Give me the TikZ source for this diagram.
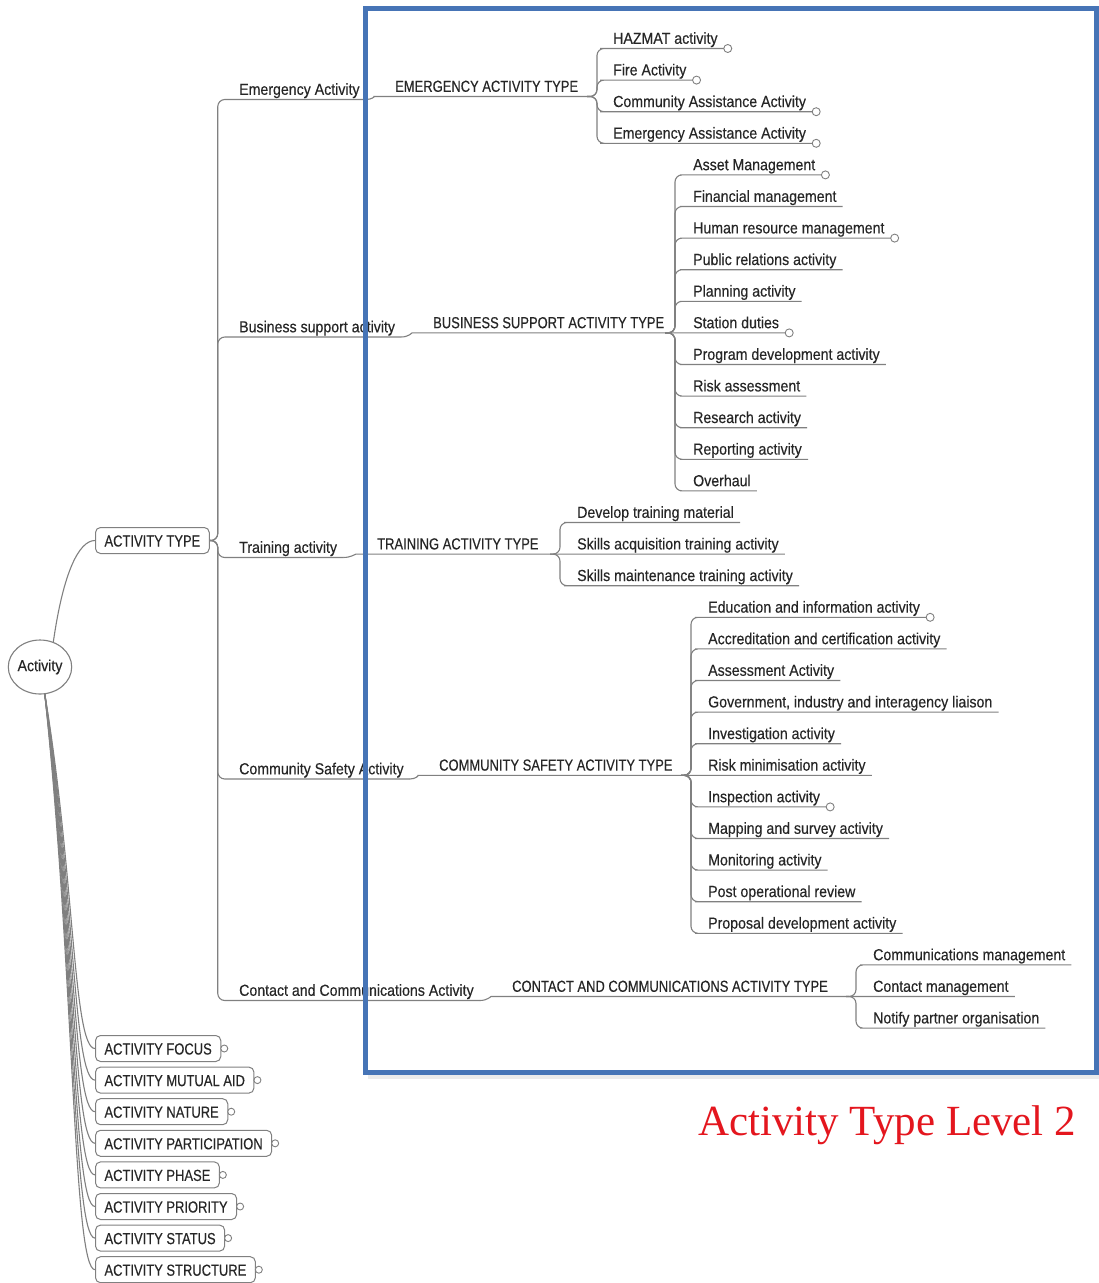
\documentclass[tikz,border=0pt]{standalone}
\usepackage{fontspec}
\setmainfont{Liberation Sans}[FakeStretch=0.885,FakeBold=0.3]
\newfontfamily\capsfont{Liberation Sans}[FakeStretch=0.81,FakeBold=0.3]
\newfontfamily\titlefont{Liberation Serif}
\usetikzlibrary{shapes.geometric}

\definecolor{linegray}{RGB}{128,128,128}
\definecolor{txt}{RGB}{38,38,38}
\definecolor{frameblue}{RGB}{70,116,182}
\definecolor{titlered}{RGB}{228,22,30}

\tikzset{
  conn/.style={draw=linegray, line width=1.1pt, rounded corners=7pt},
  lbl/.style={font=\fontsize{16}{19}\selectfont, text=txt, inner xsep=6pt,
    inner ysep=0pt, text height=12pt, text depth=4.5pt, anchor=south west},
  capslbl/.style={lbl, font=\capsfont\fontsize{16}{19}\selectfont},
  catbox/.style={draw=linegray, line width=1pt, rounded corners=5pt, fill=white,
    inner xsep=9pt, inner ysep=0pt, minimum height=26pt, text height=12pt,
    text depth=0pt, text=txt, font=\capsfont\fontsize{16}{19}\selectfont, anchor=west},
  enddot/.style={draw=linegray, fill=white, line width=0.9pt},
  frame/.style={draw=frameblue, line width=5pt},
}

% a leaf label on row #3 of the right-hand column
\newcommand\mmleaf[4]{\node[lbl] (#1) at (#2,{48.5+31.6*#3}) {#4};}

\begin{document}
\begin{tikzpicture}[x=1pt,y=-1pt]
\useasboundingbox (0,0) rectangle (1099,1283);
\fill[white] (0,0) rectangle (1099,1283);

% root and its category boxes
\node[ellipse, draw=linegray, line width=1.1pt, minimum width=62pt, minimum height=54pt,
  inner sep=0pt, text=txt, font=\fontsize{16}{19}\selectfont] (root) at (40,667) {Activity};
\node[catbox] (atype) at (95,540.5) {ACTIVITY TYPE};

\node[catbox] (f1) at (95,1048.5) {ACTIVITY FOCUS};
\node[catbox] (f2) at (95,1080.1) {ACTIVITY MUTUAL AID};
\node[catbox] (f3) at (95,1111.7) {ACTIVITY NATURE};
\node[catbox] (f4) at (95,1143.3) {ACTIVITY PARTICIPATION};
\node[catbox] (f5) at (95,1174.9) {ACTIVITY PHASE};
\node[catbox] (f6) at (95,1206.5) {ACTIVITY PRIORITY};
\node[catbox] (f7) at (95,1238.1) {ACTIVITY STATUS};
\node[catbox] (f8) at (95,1269.7) {ACTIVITY STRUCTURE};

% level 1: activity groups
\node[lbl] (la) at (233,99.5) {Emergency Activity};
\node[lbl] (lb) at (233,337) {Business support activity};
\node[lbl] (lc) at (233,557.5) {Training activity};
\node[lbl] (ld) at (233,779) {Community Safety Activity};
\node[lbl] (le) at (233,1000.5) {Contact and Communications Activity};

% level 2: activity type headings
\node[capslbl] (ta) at (389,96.5) {EMERGENCY ACTIVITY TYPE};
\node[capslbl] (tb) at (427,332.9) {BUSINESS SUPPORT ACTIVITY TYPE};
\node[capslbl] (tc) at (371,554.1) {TRAINING ACTIVITY TYPE};
\node[capslbl] (td) at (433,775.3) {COMMUNITY SAFETY ACTIVITY TYPE};
\node[capslbl] (te) at (506,996.5) {CONTACT AND COMMUNICATIONS ACTIVITY TYPE};

\coordinate (pa) at (587,96.5);
\coordinate (pb) at (665,332.9);
\coordinate (pc) at (550,554.1);
\coordinate (pd) at (681,775.3);
\coordinate (pe) at (846,996.5);

% level 3: activity types
\mmleaf{e1}{607}{0}{HAZMAT activity}
\mmleaf{e2}{607}{1}{Fire Activity}
\mmleaf{e3}{607}{2}{Community Assistance Activity}
\mmleaf{e4}{607}{3}{Emergency Assistance Activity}

\mmleaf{b1}{687}{4}{Asset Management}
\mmleaf{b2}{687}{5}{Financial management}
\mmleaf{b3}{687}{6}{Human resource management}
\mmleaf{b4}{687}{7}{Public relations activity}
\mmleaf{b5}{687}{8}{Planning activity}
\mmleaf{b6}{687}{9}{Station duties}
\mmleaf{b7}{687}{10}{Program development activity}
\mmleaf{b8}{687}{11}{Risk assessment}
\mmleaf{b9}{687}{12}{Research activity}
\mmleaf{b10}{687}{13}{Reporting activity}
\mmleaf{b11}{687}{14}{Overhaul}

\mmleaf{c1}{571}{15}{Develop training material}
\mmleaf{c2}{571}{16}{Skills acquisition training activity}
\mmleaf{c3}{571}{17}{Skills maintenance training activity}

\mmleaf{d1}{702}{18}{Education and information activity}
\mmleaf{d2}{702}{19}{Accreditation and certification activity}
\mmleaf{d3}{702}{20}{Assessment Activity}
\mmleaf{d4}{702}{21}{Government, industry and interagency liaison}
\mmleaf{d5}{702}{22}{Investigation activity}
\mmleaf{d6}{702}{23}{Risk minimisation activity}
\mmleaf{d7}{702}{24}{Inspection activity}
\mmleaf{d8}{702}{25}{Mapping and survey activity}
\mmleaf{d9}{702}{26}{Monitoring activity}
\mmleaf{d10}{702}{27}{Post operational review}
\mmleaf{d11}{702}{28}{Proposal development activity}

\mmleaf{g1}{867}{29}{Communications management}
\mmleaf{g2}{867}{30}{Contact management}
\mmleaf{g3}{867}{31}{Notify partner organisation}

% connectors from the root
\draw[conn] (root.62) .. controls +(10,-70) and +(-16,0) .. (atype.west);
\foreach \n/\c in {f1/180,f2/195,f3/210,f4/225,f5/240,f6/255,f7/270,f8/285}
  \draw[conn] (root.-80) .. controls +(30,\c) and +(-22,0) .. (\n.west);

% activity type to groups
\foreach \n in {la,lb,lc,ld,le}
  \draw[conn] (atype.east) -- ++(8,0) |- (\n.south west) -- (\n.south east);

% groups to type headings
\foreach \l/\t/\p in {la/ta/pa,lb/tb/pb,lc/tc/pc,ld/td/pd,le/te/pe}
  \draw[conn] (\l.south east) to[out=0,in=180] ([xshift=-8pt]\t.south west) -- (\p);

% type headings to their items
\foreach \p/\n in {pa/e1,pa/e2,pa/e3,pa/e4,
    pb/b1,pb/b2,pb/b3,pb/b4,pb/b5,pb/b7,pb/b8,pb/b9,pb/b10,pb/b11,
    pc/c1,pc/c3,
    pd/d1,pd/d2,pd/d3,pd/d4,pd/d5,pd/d7,pd/d8,pd/d9,pd/d10,pd/d11,
    pe/g1,pe/g3}
  \draw[conn] (\p) -- ++(10,0) |- (\n.south west) -- (\n.south east);
\foreach \p/\n in {pb/b6,pc/c2,pd/d6,pe/g2}
  \draw[conn] (\p) -- (\n.south west) -- (\n.south east);

% collapsed-branch markers
\foreach \n in {e1,e2,e3,e4,b1,b3,b6,d1,d7}
  \draw[enddot] ([xshift=4pt]\n.south east) circle[radius=4pt];
\foreach \n in {f1,f2,f3,f4,f5,f6,f7,f8}
  \draw[enddot] ([xshift=3pt]\n.east) circle[radius=3.5pt];

% highlight frame and caption
\draw[black, opacity=0.08, line width=4pt] (368,1077) -- (1099,1077);
\draw[frame] (365.5,8.5) rectangle (1096,1072.5);
\node[anchor=base west, inner sep=0pt, text=titlered,
  font=\titlefont\fontsize{43}{50}\selectfont] (caption) at (698,1135) {Activity Type Level 2};
\end{tikzpicture}
\end{document}
